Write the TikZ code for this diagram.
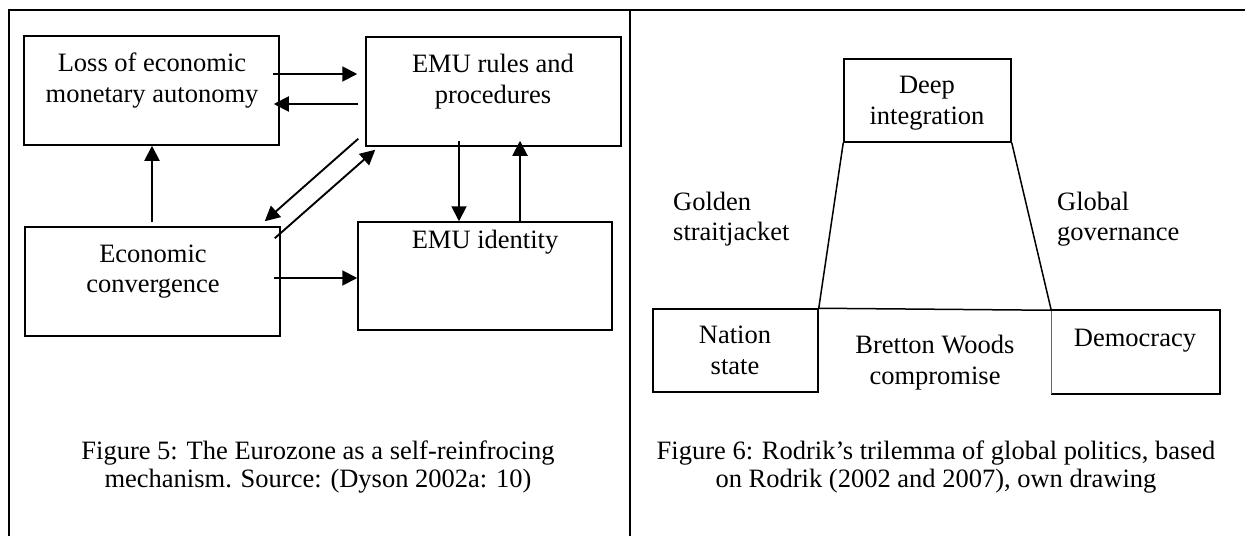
\documentclass[tikz,border=0pt]{standalone}
\usepackage{fontspec}
\setmainfont{Liberation Serif}
\usetikzlibrary{arrows.meta,calc}
\begin{document}
\begin{tikzpicture}[x=1pt,y=-1pt,
  box/.style={draw, line width=1.5pt, inner sep=0pt, minimum width=#1},
  txt/.style={inner sep=0pt, anchor=base, font=\fontsize{26.5pt}{31pt}\selectfont},
  arr/.style={line width=1.9pt, -{Triangle[length=15pt,width=15pt]}},
  frame/.style={line width=2pt},
  edge/.style={line width=1.5pt}]
\useasboundingbox (0,0) rectangle (1245,536);
% frame
\coordinate (ftl) at (9,10);
\coordinate (ftr) at (1245,10);
\coordinate (fbl) at (9,536);
\coordinate (dtop) at (630,10);
\coordinate (dbot) at (630,536);
\draw[frame] (fbl) -- (ftl) -- (ftr);
\draw[frame] (dtop) -- (dbot);
% left panel boxes
\node[box=255pt, minimum height=109pt] (loss) at (151.5,90.5) {};
\node[box=255pt, minimum height=109pt] (rules) at (493.5,91.5) {};
\node[box=255pt, minimum height=109pt] (econ) at (152.5,281.5) {};
\node[box=254pt, minimum height=108pt] (ident) at (485,276) {};
\node[txt] (t1a) at (152,71) {Loss of economic};
\node[txt] (t1b) at (152,102) {monetary autonomy};
\node[txt] (t2a) at (493,72) {EMU rules and};
\node[txt] (t2b) at (493,103) {procedures};
\node[txt] (t3a) at (153,262) {Economic};
\node[txt] (t3b) at (153,292) {convergence};
\node[txt] (t4) at (485,248) {EMU identity};
% arrows
\draw[arr] ([shift={(-7,-16.5)}]loss.east) -- ([shift={(-8,-17.5)}]rules.west);
\draw[arr] ([shift={(-7,12.5)}]rules.west) -- ([shift={(-6,13.5)}]loss.east);
\draw[arr] ([shift={(-0.5,-4)}]econ.north) -- ([shift={(0.5,0)}]loss.south);
\draw[arr] ([shift={(-7,-8)}]rules.south west) -- ([shift={(-16,-5)}]econ.north east);
\draw[arr] ([shift={(-6,12)}]econ.north east) -- ([shift={(10,3)}]rules.south west);
\draw[arr] ([shift={(-34.5,-6)}]rules.south) -- ([shift={(-26,0)}]ident.north);
\draw[arr] ([shift={(35,0)}]ident.north) -- ([shift={(26.5,-6)}]rules.south);
\draw[arr] ([shift={(-7,-3.5)}]econ.east) -- ([shift={(0,2)}]ident.west);
% right panel
\node[box=167pt, minimum height=83pt] (deep) at (927.5,100.5) {};
\node[box=165pt, minimum height=83pt] (nation) at (735.5,350.5) {};
\node[box=167pt, minimum height=82pt, draw=none] (demo) at (1135.5,352) {};
\draw[line width=1.7pt] (demo.north west) -- (demo.north east) -- (demo.south east) -- (demo.south west);
\draw[line width=0.8pt, black!60] (demo.south west) -- (demo.north west);
\draw[edge] (deep.south west) -- (nation.north east) -- (demo.north west) -- (deep.south east);
\node[txt] (d1) at (927,93) {Deep};
\node[txt] (d2) at (927,124) {integration};
\node[txt] (n1) at (735,343) {Nation};
\node[txt] (n2) at (735,374) {state};
\node[txt] (b1) at (935,353) {Bretton Woods};
\node[txt] (b2) at (935,384) {compromise};
\node[txt] (dm) at (1135,346) {Democracy};
\node[txt, anchor=base west] (g1) at (673,210) {Golden};
\node[txt, anchor=base west] (g2) at (673,240) {straitjacket};
\node[txt, anchor=base west] (gg1) at (1057,210) {Global};
\node[txt, anchor=base west] (gg2) at (1057,240) {governance};
% captions
\node[txt] (c1a) at (318,459) {Figure 5: The Eurozone as a self-reinfrocing};
\node[txt] (c1b) at (318,487) {mechanism. Source: (Dyson 2002a: 10)};
\node[txt] (c2a) at (936,459) {Figure 6: Rodrik’s trilemma of global politics, based};
\node[txt] (c2b) at (936,487) {on Rodrik (2002 and 2007), own drawing};
\end{tikzpicture}
\end{document}
